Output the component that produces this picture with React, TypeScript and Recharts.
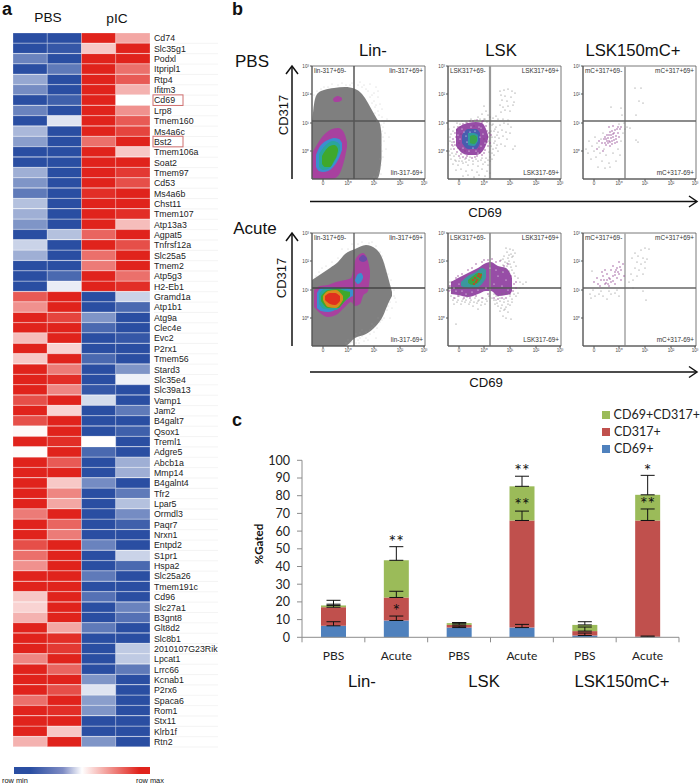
import {
  Area, Bar, BarChart, Cell, ComposedChart, ErrorBar, Legend, ReferenceArea, ReferenceDot,
  ReferenceLine, Scatter, XAxis, YAxis,
} from 'recharts'

// panel a
const genes = [
  'Cd74', 'Slc35g1', 'Podxl', 'Itpripl1', 'Rtp4', 'Ifitm3', 'Cd69', 'Lrp8', 'Tmem160', 'Ms4a6c', 'Bst2', 'Tmem106a',
  'Soat2', 'Tmem97', 'Cd53', 'Ms4a6b', 'Chst11', 'Tmem107', 'Atp13a3', 'Agpat5', 'Tnfrsf12a', 'Slc25a5', 'Tmem2',
  'Atp5g3', 'H2-Eb1', 'Gramd1a', 'Atp1b1', 'Atg9a', 'Clec4e', 'Evc2', 'P2rx1', 'Tmem56', 'Stard3', 'Slc35e4',
  'Slc39a13', 'Vamp1', 'Jam2', 'B4galt7', 'Qsox1', 'Treml1', 'Adgre5', 'Abcb1a', 'Mmp14', 'B4galnt4', 'Tfr2', 'Lpar5',
  'Ormdl3', 'Paqr7', 'Nrxn1', 'Entpd2', 'S1pr1', 'Hspa2', 'Slc25a26', 'Tmem191c', 'Cd96', 'Slc27a1', 'B3gnt8',
  'Glt8d2', 'Slc8b1', '2010107G23Rik', 'Lpcat1', 'Lrrc66', 'Kcnab1', 'P2rx6', 'Spaca6', 'Rom1', 'Stx11', 'Klrb1f', 'Rtn2',
]
const boxedGenes = ['Cd69', 'Bst2']
const pbsA = [
  -1, -1, -.7, -1, -.5, -.65, -1, -.7, -1, -.4, -.55, -1, -1, -.45, -.6, -.75, -.35, -.45, -.6, -1, -.25, -.45, -1, -1, -1,
  .75, .5, 1, 1, .3, 1, .25, 1, 1, 1, .8, 1, .8, .03, 1, .02, 1, 1, 1, 1, 1, .6,
  1, 1, .8, .65, .5, 1, 1, .25, .2, .35, 1, 1, 1, .55, 1, 1, 1, .65, 1, 1, 1, .35,
]
const pbsB = [
  -1, -.95, -1, -.75, -1, -1, -.9, -1, -.15, -1, -1, -1, -1, -1, -1, -1, -1, -1, -1, -.35, -1, -1, -1, -.85, -.1,
  1, 1, .85, 1, 1, .2, 1, .6, .95, .55, 1, .2, 1, 1, .95, 1, .75, 1, .25, .55, .4, 1,
  .7, .6, 1, 1, 1, 1, 1, 1, 1, 1, .4, .95, .9, 1, .7, 1, .8, 1, .95, 1, .25, 1,
]
const picA = [
  1, .25, 1, 1, 1, 1, 1, 1, 1, 1, .65, 1, 1, 1, 1, .95, 1, 1, 1, .7, 1, .65, .6, 1, 1,
  -1, -1, -.6, -.85, -1, -1, -.85, -1, -1, -.95, -.2, -1, -1, -1, .01, -.85, -1, -1, -.65, -1, -1, -1,
  -1, -1, -.7, -1, -1, -.75, -1, -.8, -1, -1, -.75, -1, -1, -1, -1, -.6, -.15, -.55, -.6, -1, -1, -.6,
]
const picB = [
  .4, 1, 1, .65, .75, .35, 0, .5, .75, .85, 1, .25, 1, .9, .8, 1, 1, .95, .3, 1, .8, 1, 1, .65, .95,
  -.25, -.85, -1, -1, -.95, -1, -1, -.6, -.08, -1, -1, -.75, -1, -.9, -1, -1, -.45, -.45, -1, -.75, -.35, -.65,
  -.9, -1, -1, -.25, -.85, -1, -1, -1, -.7, -.8, -1, -1, -.3, -.3, -.75, -1, -1, -1, -1, -1, -1, -1,
]

// panel b, everything in display channels of the cytometer plot (0-113), rows are [channel, low, high]
const linPbsGray = [[0, 0, 54], [1, 0, 66], [3, 0, 80], [6, 0, 86], [12, 0, 89], [22, 0, 91], [33, 0, 92], [43, 0, 90], [50, 0, 85], [56, 0, 76], [61, 0, 67], [65, 0, 60], [68, 8, 55], [69.5, 20, 45]]
const linPbsPurple = [[0, 3, 26], [3, 0, 31], [6, 0, 36], [10, 0, 42], [15, 0, 47], [20, 0, 50], [26, 3, 51], [30, 11, 49], [33, 22, 44], [35, 32, 37]]
const linPbsBlue = [[4, 12, 24], [7, 8, 31], [11, 7, 36], [16, 8, 39], [22, 13, 41], [27, 21, 40], [30, 29, 36]]
const linPbsTeal = [[7, 12, 25], [11, 9, 31], [16, 10, 36], [21, 15, 38], [25, 22, 37], [28, 29, 34]]
const linPbsGreen = [[10, 15, 23], [13, 12, 28], [18, 12, 33], [22, 18, 34], [25, 24, 32], [26, 28, 30]]
const linPbsSpot = [[21, 79, 80], [23, 77, 82], [26, 77, 83], [30, 79, 81]]
const linPbsSparse = [
  [66, 88], [68, 75], [70, 62], [71, 52], [73, 46], [72, 38], [74, 30], [71, 22], [69, 14], [66, 8], [63, 72], [64, 92], [58, 95], [48, 97], [40, 96], [30, 96], [20, 95], [12, 92], [75, 60], [77, 42], [70, 70], [69, 5], [72, 56], [68, 20], [62, 86], [52, 94],
  [60, 84], [62, 78], [64, 74], [66, 68], [67, 64], [68, 58], [70, 48], [71, 42], [69, 34], [70, 28], [67, 6], [65, 2], [62, 2], [68, 10], [56, 88], [54, 90], [50, 92], [46, 94], [38, 94], [34, 94], [26, 94], [16, 92], [9, 90], [5, 88], [2, 84], [1, 72], [58, 82], [60, 76], [63, 66], [65, 58], [66, 82], [69, 54],
]

const linAcuteGray = [[0, 0, 66], [9, 0, 72], [18, 0, 78], [26, 0, 84], [33, 0, 92], [43, 8, 97], [54, 12, 101], [64, 20, 97], [71, 30, 86], [76, 42, 69], [80, 50, 54]]
const linAcutePurple = [[2, 39, 56], [8, 33, 60], [16, 29, 61], [24, 31, 64], [33, 39, 66], [39, 44, 68], [43, 40, 85], [48, 42, 92], [51, 50, 93], [56, 55, 85], [58, 70, 75]]
const linAcuteBlue = [[5, 38, 53], [9, 35, 58], [16, 34, 59], [26, 38, 58], [34, 46, 58], [41, 50, 56]]
const linAcuteArmBlue = [[43, 65, 66], [46, 62, 72], [49, 64, 73], [51, 68, 70]]
const linAcuteArmDark = [[47, 86, 88], [51, 84, 91], [55, 86, 88]]
const linAcuteTeal = [[7, 42, 52], [12, 37, 57], [24, 36, 58], [32, 44, 57], [38, 50, 55]]
const linAcuteGreen = [[9, 45, 50], [16, 38, 56], [26, 38, 57], [33, 45, 55], [38, 50, 54]]
const linAcuteOrange = [[11, 46, 50], [16, 39, 55], [24, 38, 56], [31, 46, 50]]
const linAcuteRed = [[13, 46, 50], [18, 42, 53], [23, 41, 53], [28, 45, 50]]
const linAcuteSparse = [
  [82, 50], [84, 44], [78, 60], [74, 76], [68, 94], [60, 104], [50, 104], [40, 102], [30, 97], [20, 84], [10, 78], [4, 70], [76, 40], [72, 34], [66, 28], [60, 22], [54, 14], [48, 8], [44, 3], [56, 6], [62, 14], [70, 26], [40, 4], [36, 6], [50, 16], [58, 12], [65, 18], [78, 28], [47, 3], [52, 5], [64, 8],
  [80, 38], [82, 56], [79, 66], [76, 72], [72, 82], [70, 90], [64, 100], [57, 103], [46, 102], [36, 97], [26, 88], [14, 80], [7, 74], [46, 6], [50, 10], [54, 8], [58, 16], [62, 20], [68, 24], [72, 28], [75, 36], [78, 44], [38, 3], [42, 8], [34, 3], [44, 12], [48, 13], [83, 48], [60, 18],
]

const lskPbsPurple = [[8, 33, 50], [14, 26, 54], [20, 24, 56], [28, 24, 57], [34, 27, 56], [38, 34, 50], [40, 40, 44]]
const lskPbsBlue = [[14, 36, 44], [20, 30, 50], [28, 30, 50], [32, 36, 46]]
const lskPbsTeal = [[20, 34, 46], [26, 33, 46], [30, 38, 44]]
const lskPbsGreen = [[22, 36, 43], [26, 35, 44], [29, 38, 42]]
const lskPbsGrayDots = [
  [52, 88], [56, 89], [60, 90], [64, 88], [67, 86], [53, 84], [57, 83], [63, 82], [54, 79], [59, 78], [66, 77], [52, 74], [55, 72], [60, 73], [65, 74], [57, 69], [62, 68], [53, 67],
  [36, 73], [38, 68], [34, 65], [40, 64], [42, 62], [30, 62], [37, 60], [45, 61], [48, 63], [50, 60], [55, 60], [60, 59],
  [45, 55], [48, 52], [52, 54], [56, 56], [60, 55], [63, 52], [46, 48], [50, 47], [54, 49], [58, 47], [62, 46], [47, 42], [51, 41], [55, 43], [59, 40], [46, 36], [49, 34], [53, 35], [57, 33], [45, 30], [50, 28], [65, 30], [67, 33], [44, 26],
  [3, 20], [7, 19], [12, 21], [17, 20], [22, 22], [28, 20], [33, 19], [38, 21], [5, 15], [10, 14], [15, 16], [20, 14], [25, 15], [30, 13], [35, 15], [40, 14], [8, 9], [13, 10], [18, 8], [24, 9], [29, 7], [34, 10], [39, 8], [15, 3], [20, 4], [26, 2], [31, 4], [37, 3], [42, 6],
  [0, 35], [2, 42], [1, 50], [3, 30], [4, 26], [2, 38], [5, 48], [6, 52], [9, 56], [14, 58], [18, 57], [27, 59], [32, 60], [41, 27], [43, 33], [42, 22], [41, 38], [44, 42], [43, 48],
  [1, 28], [2, 24], [4, 37], [3, 45], [5, 33], [6, 23], [8, 25], [8, 18], [11, 18], [14, 18], [18, 17], [21, 19], [25, 18], [30, 18], [34, 21], [37, 17], [40, 19], [42, 18], [44, 20], [46, 24], [48, 31], [47, 38], [49, 44], [47, 50], [44, 54], [42, 55], [39, 57], [36, 60], [23, 60], [12, 55],
]
const lskPbsPurpleDots = [
  [6, 30], [9, 27], [11, 23], [15, 22], [19, 23], [24, 21], [29, 23], [34, 24], [37, 29], [40, 33], [41, 46], [38, 53], [35, 58], [29, 59], [22, 58], [15, 55], [10, 52], [7, 46], [5, 40], [4, 34], [11, 36], [13, 45], [17, 28], [31, 30], [36, 40], [26, 53],
  [7, 34], [8, 42], [6, 37], [9, 49], [12, 30], [13, 25], [18, 21], [27, 22], [32, 26], [36, 26], [39, 37], [40, 42], [39, 48], [34, 57], [25, 58], [19, 56], [12, 52], [42, 36], [43, 44], [10, 31],
]
const lskPbsWhiteDots = [[12, 40], [15, 31], [16, 47], [19, 37], [21, 28], [23, 52], [25, 31], [27, 48], [30, 26], [31, 52], [33, 33], [35, 45], [18, 43], [37, 36], [14, 50], [28, 28], [10, 44], [33, 51], [22, 47], [32, 42]]

const lskAcutePurple = [[3, 52, 64], [10, 51, 68], [20, 49, 73], [30, 52, 78], [38, 55, 83], [43, 55, 84], [50, 50, 80], [58, 51, 78], [62, 52, 73], [64, 55, 68]]
const lskAcuteBlue = [[13, 60, 64], [20, 58, 70], [28, 58, 74], [34, 62, 78], [38, 68, 76]]
const lskAcuteGreen = [[20, 63, 66], [25, 61, 70], [30, 63, 73], [34, 68, 73]]
const lskAcuteGrayDots = [
  [62, 97], [65, 96], [59, 94], [63, 92], [67, 93], [56, 90], [60, 88], [64, 89], [53, 86], [57, 84], [61, 85], [66, 84], [55, 81], [59, 80], [63, 79], [52, 78], [57, 77], [61, 75], [66, 73], [54, 74],
  [46, 52], [50, 50], [54, 52], [58, 53], [62, 50], [66, 52], [70, 53], [48, 46], [52, 45], [56, 47], [60, 45], [64, 47], [50, 40], [54, 41], [58, 39], [62, 41], [52, 35], [56, 36], [60, 34], [55, 30], [47, 42], [72, 58], [75, 62], [78, 64],
  [3, 50], [7, 48], [11, 50], [15, 47], [19, 49], [23, 46], [27, 48], [31, 46], [35, 48], [39, 45], [9, 44], [13, 42], [17, 44], [21, 42], [25, 40], [29, 43], [33, 41], [37, 42], [6, 42], [41, 50], [2, 56], [1, 60],
  [8, 22], [58, 28], [63, 27], [30, 37],
  [58, 98], [61, 91], [65, 90], [55, 87], [59, 83], [62, 82], [68, 80], [64, 76], [67, 70], [70, 68], [72, 64], [48, 50], [52, 48], [56, 44], [60, 42], [64, 44], [68, 50], [49, 43], [53, 38], [57, 37], [44, 48], [46, 46], [5, 46], [10, 46], [14, 45], [18, 46], [22, 44], [26, 44], [30, 45], [34, 44], [38, 47], [4, 54], [2, 64], [12, 53], [20, 52],
]
const lskAcutePurpleDots = [[4, 64], [8, 68], [14, 72], [20, 76], [28, 82], [34, 84], [40, 86], [48, 84], [56, 80], [63, 70], [66, 62], [62, 52], [54, 48], [46, 48], [34, 48], [22, 48], [10, 50], [68, 58], [60, 82], [52, 85], [6, 48], [16, 48], [28, 50], [40, 52], [50, 47], [58, 48], [65, 55], [2, 60], [1, 55], [10, 70], [24, 78], [44, 87], [36, 86], [68, 64]]
const lskAcuteWhiteDots = [[6, 58], [11, 62], [14, 55], [18, 52], [24, 54], [30, 56], [38, 58], [46, 62], [50, 70], [54, 60], [58, 66], [60, 56], [48, 76], [42, 78], [8, 55], [55, 74]]
const lskAcuteRedDots = [[25, 66], [27, 68], [29, 66], [30, 70], [32, 69], [28, 64], [33, 71], [26, 62], [31, 72]]

const mcPbsGrayDots = [
  [3, 30], [6, 38], [9, 33], [5, 26], [12, 42], [14, 36], [11, 28], [16, 32], [18, 40], [20, 46], [8, 20], [13, 22], [17, 26], [21, 30], [19, 18], [23, 24], [26, 16], [15, 12], [22, 11], [27, 12], [33, 18], [30, 26], [35, 30], [37, 24], [38, 38], [40, 46], [42, 50], [36, 55], [41, 56], [44, 52],
  [52, 91], [58, 91], [56, 78], [60, 76], [53, 64], [28, 72], [38, 71], [39, 64], [47, 51], [53, 39], [55, 37],
]
const mcPbsPurpleDots = [
  [19, 36], [21, 40], [23, 34], [24, 44], [26, 38], [27, 47], [28, 41], [29, 35], [30, 45], [31, 39], [32, 49], [33, 43], [25, 36], [27, 33], [22, 42], [29, 48], [34, 37], [35, 46], [37, 50], [16, 38], [14, 30], [20, 28], [36, 42], [38, 52], [26, 52], [30, 53],
  [24, 38], [25, 41], [27, 37], [28, 44], [29, 38], [30, 42], [31, 46], [32, 36], [26, 44], [23, 40], [33, 40], [35, 52], [34, 50], [22, 36],
]
const mcAcuteGrayDots = [
  [52, 93], [58, 96], [62, 98], [66, 97], [49, 88], [55, 90], [60, 88], [64, 87], [54, 84], [58, 82], [62, 84], [52, 78], [56, 76], [60, 72], [48, 72], [54, 70], [62, 78], [50, 66], [46, 64], [50, 58], [60, 55], [63, 46], [9, 75],
  [8, 48], [12, 50], [16, 52], [20, 50], [24, 47], [28, 52], [32, 53], [36, 50], [10, 56], [18, 55], [26, 55], [34, 56], [7, 52],
]
const mcAcutePurpleDots = [
  [15, 62], [18, 66], [20, 70], [17, 60], [22, 62], [24, 66], [26, 60], [28, 64], [24, 72], [30, 70], [32, 74], [34, 78], [36, 72], [30, 80], [34, 68], [38, 76], [40, 82], [36, 84], [28, 76], [22, 76], [32, 62], [38, 66], [41, 70], [19, 74], [14, 68], [11, 64], [26, 68], [30, 65],
  [33, 76], [35, 74], [37, 79], [32, 71], [23, 63], [25, 62], [27, 67], [21, 66],
]

const channelTicksX = [11, 36, 62, 88, 112]
const channelLabelsX = ['0', '10⁰', '10¹', '10²', '10³']
const channelTicksY = [28, 56, 85, 113]
const channelLabelsY = ['10⁰', '10¹', '10²', '10³']
const gateX = 42
const gateY = 58

// panel c
const barCategories = ['PBS', 'Acute', 'PBS', 'Acute', 'PBS', 'Acute']
const cd69Values = [6.5, 9.5, 5.5, 5.5, 1, 0.3]
const cd317Values = [10.5, 13, 1.5, 60.5, 2.5, 65.7]
const doubleValues = [1, 21, 1, 19.3, 3.5, 14.5]
const cd69Errors = [2.3, 2.5, 0.8, 1.8, 1.4, 0.4]
const cd317Errors = [1.7, 3.5, 1.2, 5.3, 2.3, 6.5]
const doubleErrors = [2.9, 7.7, 0.3, 5.7, 1.8, 11]
const starBars = [1, 1, 3, 3, 5, 5]
const starLevels = [56, 17, 96, 76.5, 96, 77]
const starTexts = ['**', '*', '**', '**', '*', '**']
const percentTicks = [0, 10, 20, 30, 40, 50, 60, 70, 80, 90, 100]
const legendOrder = ['CD69+CD317+', 'CD317+', 'CD69+']

const C = {
  gray: '#7f7f7f', sparse: '#a0a0a0', purple: '#a8419f', lskPurple: '#8c3a9c', lskBlue: '#3f5fb0', blue: '#3a8fd0', teal: '#2aa59c', green: '#3fa82c',
  orange: '#d98a1e', red: '#e0301e', dark: '#6b4aa8', dot: '#8a3a8a', dotGray: '#757575',
}

const SANS = '"Liberation Sans", Arial, sans-serif'
const BARFONT = 'Lato, sans-serif'

const heatColor = (v: number) => {
  const end = v < 0 ? [42, 78, 162] : [224, 35, 28]
  const t = Math.abs(v)
  const ch = end.map((c) => Math.round(255 + (c - 255) * t))
  return `rgb(${ch[0]},${ch[1]},${ch[2]})`
}

const GeneTick = (props: any) => {
  const { x, y, payload } = props
  return (
    <g>
      <line x1={x} x2={x + 64} y1={y + 5.2} y2={y + 5.2} stroke="#efefef" strokeWidth={0.7} />
      {boxedGenes.includes(payload.value) && (
        <rect x={x - 1} y={y - 5.4} width={30} height={10.6} fill="none" stroke="#cf6f6f" strokeWidth={1} />
      )}
      <text x={x} y={y + 3.2} fontFamily={SANS} fontSize={8.8} fill="#222">{payload.value}</text>
    </g>
  )
}

const heatRows = genes.map((gene) => ({ gene, a: 1, b: 1, c: 1, d: 1 }))
const heatCols = [{ key: 'a', vals: pbsA }, { key: 'b', vals: pbsB }, { key: 'c', vals: picA }, { key: 'd', vals: picB }]

const Heatmap = () => (
  <BarChart width={218} height={752} data={heatRows} layout="vertical" barCategoryGap={0}
    margin={{ top: 33, right: 0, bottom: 5, left: 13 }}>
    <XAxis type="number" domain={[0, 4]} hide />
    <YAxis type="category" dataKey="gene" orientation="right" width={68} interval={0} tick={GeneTick}
      axisLine={false} tickLine={false} tickSize={0} tickMargin={4} />
    {heatCols.map((col) => (
      <Bar key={col.key} dataKey={col.key} stackId="h" isAnimationActive={false}>
        {col.vals.map((v, i) => <Cell key={i} fill={heatColor(v)} stroke="rgba(255,255,255,0.4)" strokeWidth={0.6} />)}
      </Bar>
    ))}
  </BarChart>
)

type Band = { rows: number[][]; color: string; opacity?: number }
type Dots = { pts: number[][]; color: string; r?: number }

const asBand = (rows: number[][]) => rows.map(([x, lo, hi]) => ({ x, y: [lo, hi] }))
const asDots = (pts: number[][]) => pts.map(([x, y]) => ({ x, y }))

const FlowPlot = ({ left, top, bands, under, over, labels, vStroke, vWidth, hStroke, hWidth }: {
  left: number; top: number; bands: Band[]; under: Dots[]; over: Dots[]; labels: string[]
  vStroke: string; vWidth: number; hStroke: string; hWidth: number
}) => {
  const dotSeries = (d: Dots, i: number, tag: string) => (
    <Scatter key={tag + i} data={asDots(d.pts)} dataKey="y" isAnimationActive={false}
      shape={(p: any) => <circle cx={p.cx} cy={p.cy} r={d.r ?? 0.6} fill={d.color} />} />
  )
  const tagStyle = { position: 'absolute', fontFamily: SANS, fontSize: 6.4, color: '#333', background: 'rgba(255,255,255,0.85)', padding: '0 1px', lineHeight: '8px', whiteSpace: 'nowrap' } as const
  return (
    <div style={{ position: 'absolute', left: left - 16, top: top - 2, width: 133, height: 129 }}>
      <ComposedChart width={133} height={129} margin={{ top: 2, right: 4, bottom: 0, left: 0 }}>
        <XAxis type="number" dataKey="x" domain={[0, 113]} allowDataOverflow ticks={channelTicksX} interval={0}
          tickFormatter={(v) => channelLabelsX[channelTicksX.indexOf(v)]} height={14} tickSize={2} tickMargin={1}
          tick={{ fontSize: 4.6, fontFamily: SANS, fill: '#444' }} stroke="#555" />
        <YAxis type="number" dataKey="y" domain={[0, 113]} allowDataOverflow ticks={channelTicksY} interval={0}
          tickFormatter={(v) => channelLabelsY[channelTicksY.indexOf(v)]} width={16} tickSize={2} tickMargin={1}
          tick={{ fontSize: 4.6, fontFamily: SANS, fill: '#444' }} stroke="#555" />
        {under.map((d, i) => dotSeries(d, i, 'u'))}
        {bands.map((b, i) => (
          <Area key={i} data={asBand(b.rows)} dataKey="y" type="monotone" stroke="none" fill={b.color}
            fillOpacity={b.opacity ?? 1} dot={false} activeDot={false} isAnimationActive={false} />
        ))}
        {over.map((d, i) => dotSeries(d, i, 'o'))}
        <ReferenceLine x={gateX} stroke={vStroke} strokeWidth={vWidth} />
        <ReferenceLine y={gateY} stroke={hStroke} strokeWidth={hWidth} />
        <ReferenceArea x1={0} x2={113} y1={0} y2={113} fill="none" stroke="#555" strokeWidth={0.8} />
      </ComposedChart>
      <span style={{ ...tagStyle, left: 17, top: 3 }}>{labels[0]}</span>
      <span style={{ ...tagStyle, right: 5, top: 3 }}>{labels[1]}</span>
      <span style={{ ...tagStyle, right: 5, top: 105 }}>{labels[2]}</span>
    </div>
  )
}

const barRows = barCategories.map((cat, i) => ({
  id: i,
  cat,
  cd69: cd69Values[i],
  cd317: cd317Values[i],
  dbl: doubleValues[i],
  cd69Err: [0, cd69Errors[i]],
  cd317Err: [0, cd317Errors[i]],
  dblErr: [0, doubleErrors[i]],
}))

const BarLegend = ({ payload }: any) => (
  <div>
    {legendOrder.map((name) => {
      const e = (payload || []).find((p: any) => p.value === name)
      return (
        <div key={name} style={{ display: 'flex', alignItems: 'center', height: 17, fontFamily: BARFONT, fontSize: 12.5, color: '#222', whiteSpace: 'nowrap' }}>
          <span style={{ width: 8, height: 8, background: e ? e.color : '#ccc', marginRight: 4 }} />
          {name}
        </div>
      )
    })}
  </div>
)

// the lower ticks of the excel axis sit between the bars, not under them
const BAND = 62.83
const BarTick = (props: any) => {
  const { x, y, payload, index } = props
  return (
    <g>
      <line x1={x - BAND / 2} x2={x - BAND / 2} y1={y} y2={y + 5} stroke="#8c8c8c" />
      {index === barCategories.length - 1 && <line x1={x + BAND / 2} x2={x + BAND / 2} y1={y} y2={y + 5} stroke="#8c8c8c" />}
      <text x={x} y={y + 23} textAnchor="middle" fontFamily={BARFONT} fontSize={12} fill="#222">{barCategories[payload.value]}</text>
    </g>
  )
}

const StackedBars = () => (
  <BarChart width={460} height={270} data={barRows} barSize={25}
    margin={{ top: 55.3, right: 21, bottom: 7.7, left: 22 }}>
    <XAxis dataKey="id" height={30} stroke="#8c8c8c" tickSize={0} tickMargin={0} tick={BarTick} interval={0} tickLine={false} />
    <YAxis domain={[0, 100]} ticks={percentTicks} interval={0} width={40} stroke="#8c8c8c" tickSize={5} tickMargin={7}
      tick={{ fontFamily: BARFONT, fontSize: 12.5, fill: '#222' }} />
    <Legend layout="vertical" align="center" verticalAlign="middle" content={BarLegend}
      wrapperStyle={{ left: 362, top: 1, width: 98 }} />
    <Bar dataKey="cd69" name="CD69+" stackId="s" fill="#4f81bd" isAnimationActive={false}>
      <ErrorBar dataKey="cd69Err" direction="y" width={7} stroke="#111" strokeWidth={1} isAnimationActive={false} />
    </Bar>
    <Bar dataKey="cd317" name="CD317+" stackId="s" fill="#c0504d" isAnimationActive={false}>
      <ErrorBar dataKey="cd317Err" direction="y" width={7} stroke="#111" strokeWidth={1} isAnimationActive={false} />
    </Bar>
    <Bar dataKey="dbl" name="CD69+CD317+" stackId="s" fill="#9bbb59" isAnimationActive={false}>
      <ErrorBar dataKey="dblErr" direction="y" width={7} stroke="#111" strokeWidth={1} isAnimationActive={false} />
    </Bar>
    {starBars.map((bar, i) => (
      <ReferenceDot key={i} x={bar} y={starLevels[i]} r={0} fill="none" stroke="none" ifOverflow="visible"
        label={{ value: starTexts[i], position: 'center', fontFamily: BARFONT, fontSize: 18, fill: '#111', dy: 3 }} />
    ))}
  </BarChart>
)

const Txt = ({ x, y, size, anchor, bold, font, rotate, children }: any) => (
  <text x={x} y={y} fontSize={size} textAnchor={anchor || 'middle'} fontWeight={bold ? 700 : 400}
    fontFamily={font || SANS} fill="#111" transform={rotate ? `rotate(-90 ${x} ${y})` : undefined}>{children}</text>
)

const Overlay = () => (
  <svg width={700} height={784} style={{ position: 'absolute', left: 0, top: 0, pointerEvents: 'none' }}>
    <Txt x={2} y={15} size={18} anchor="start" bold>a</Txt>
    <Txt x={232} y={15} size={18} anchor="start" bold>b</Txt>
    <Txt x={232} y={426} size={18} anchor="start" bold>c</Txt>
    <Txt x={48} y={22} size={13.7}>PBS</Txt>
    <Txt x={117} y={23} size={13.7}>pIC</Txt>
    <Txt x={373} y={56} size={16.7}>Lin-</Txt>
    <Txt x={501} y={56} size={16.7}>LSK</Txt>
    <Txt x={633} y={56} size={16.7}>LSK150mC+</Txt>
    <Txt x={252} y={67} size={17}>PBS</Txt>
    <Txt x={255} y={234} size={17}>Acute</Txt>
    <Txt x={288} y={115} size={13} rotate>CD317</Txt>
    <Txt x={286} y={278} size={13} rotate>CD317</Txt>
    <Txt x={485} y={216.5} size={13.2}>CD69</Txt>
    <Txt x={486} y={386.5} size={13.2}>CD69</Txt>
    <line x1={292} x2={292} y1={179} y2={67} stroke="#111" strokeWidth={1.5} />
    <polyline points="286,74 292,66 298,74" fill="none" stroke="#111" strokeWidth={1.5} />
    <line x1={292} x2={292} y1={346} y2={234} stroke="#111" strokeWidth={1.5} />
    <polyline points="286,241 292,233 298,241" fill="none" stroke="#111" strokeWidth={1.5} />
    <line x1={310} x2={696} y1={201.5} y2={201.5} stroke="#111" strokeWidth={1.5} />
    <polyline points="689,196 697,201.5 689,207" fill="none" stroke="#111" strokeWidth={1.5} />
    <line x1={310} x2={696} y1={372} y2={372} stroke="#111" strokeWidth={1.5} />
    <polyline points="689,366.5 697,372 689,377.5" fill="none" stroke="#111" strokeWidth={1.5} />
    <Txt x={362} y={687} size={16.7}>Lin-</Txt>
    <Txt x={484} y={687} size={16.7}>LSK</Txt>
    <Txt x={622} y={687} size={16.7}>LSK150mC+</Txt>
    <Txt x={263} y={544} size={11.5} bold font={BARFONT} rotate>%Gated</Txt>
    <Txt x={2} y={783} size={7.4} anchor="start">row min</Txt>
    <Txt x={136} y={783} size={7.4} anchor="start">row max</Txt>
  </svg>
)

const LIN = ['lin-317+69-', 'lin-317+69+', 'lin-317-69+']
const LSK = ['LSK317+69-', 'LSK317+69+', 'LSK317-69+']
const MC = ['mC+317+69-', 'mC+317+69+', 'mC+317-69+']

const App = () => (
  <div style={{ position: 'absolute', left: 0, top: 0, width: 700, height: 784, overflow: 'hidden', background: '#fff' }}>
    <div style={{ position: 'absolute', left: 0, top: 0 }}><Heatmap /></div>
    <div style={{
      position: 'absolute', left: 14, top: 767, width: 136, height: 7,
      background: 'linear-gradient(90deg,#2a4ea2 0%,#2a4ea2 12%,#7f8cc4 36%,#ffffff 50%,#f5b0ac 65%,#e0231c 92%,#e0231c 100%)',
    }} />

    <FlowPlot left={312} top={66} labels={LIN} vStroke="#555" vWidth={1.5} hStroke="#555" hWidth={1.3}
      under={[{ pts: linPbsSparse, color: C.sparse, r: 0.45 }]} over={[]}
      bands={[{ rows: linPbsGray, color: C.gray }, { rows: linPbsSpot, color: C.purple }, { rows: linPbsPurple, color: C.purple }, { rows: linPbsBlue, color: C.blue }, { rows: linPbsTeal, color: C.teal }, { rows: linPbsGreen, color: C.green }]} />
    <FlowPlot left={448} top={66} labels={LSK} vStroke="#999" vWidth={2.2} hStroke="#666" hWidth={1.5}
      under={[{ pts: lskPbsGrayDots, color: C.dotGray }, { pts: lskPbsPurpleDots, color: C.dot, r: 0.7 }]}
      over={[{ pts: lskPbsWhiteDots, color: '#fff', r: 0.6 }]}
      bands={[{ rows: lskPbsPurple, color: C.lskPurple, opacity: 0.9 }, { rows: lskPbsBlue, color: C.lskBlue, opacity: 0.9 }, { rows: lskPbsTeal, color: C.teal, opacity: 0.85 }, { rows: lskPbsGreen, color: C.green, opacity: 0.7 }]} />
    <FlowPlot left={583} top={66} labels={MC} vStroke="#aaa" vWidth={2} hStroke="#666" hWidth={1.5}
      under={[{ pts: mcPbsGrayDots, color: C.dotGray, r: 0.55 }, { pts: mcPbsPurpleDots, color: C.dot, r: 0.7 }]} over={[]} bands={[]} />

    <FlowPlot left={312} top={233} labels={LIN} vStroke="#555" vWidth={1.3} hStroke="#444" hWidth={1.3}
      under={[{ pts: linAcuteSparse, color: C.sparse, r: 0.45 }]} over={[]}
      bands={[{ rows: linAcuteGray, color: C.gray }, { rows: linAcutePurple, color: C.purple }, { rows: linAcuteArmBlue, color: C.blue }, { rows: linAcuteArmDark, color: C.dark }, { rows: linAcuteBlue, color: C.blue }, { rows: linAcuteTeal, color: C.teal }, { rows: linAcuteGreen, color: C.green }, { rows: linAcuteOrange, color: C.orange }, { rows: linAcuteRed, color: C.red }]} />
    <FlowPlot left={448} top={233} labels={LSK} vStroke="#888" vWidth={1.6} hStroke="#555" hWidth={1.5}
      under={[{ pts: lskAcuteGrayDots, color: C.dotGray }, { pts: lskAcutePurpleDots, color: C.dot, r: 0.7 }]}
      over={[{ pts: lskAcuteWhiteDots, color: '#fff', r: 0.6 }, { pts: lskAcuteRedDots, color: C.red, r: 0.9 }]}
      bands={[{ rows: lskAcutePurple, color: C.lskPurple, opacity: 0.9 }, { rows: lskAcuteBlue, color: C.teal, opacity: 0.85 }, { rows: lskAcuteGreen, color: C.green, opacity: 0.8 }]} />
    <FlowPlot left={583} top={233} labels={MC} vStroke="#aaa" vWidth={1.6} hStroke="#666" hWidth={1.5}
      under={[{ pts: mcAcuteGrayDots, color: C.dotGray, r: 0.55 }, { pts: mcAcutePurpleDots, color: C.dot, r: 0.7 }]} over={[]} bands={[]} />

    <div style={{ position: 'absolute', left: 240, top: 405 }}><StackedBars /></div>
    <Overlay />
  </div>
)

export default App
